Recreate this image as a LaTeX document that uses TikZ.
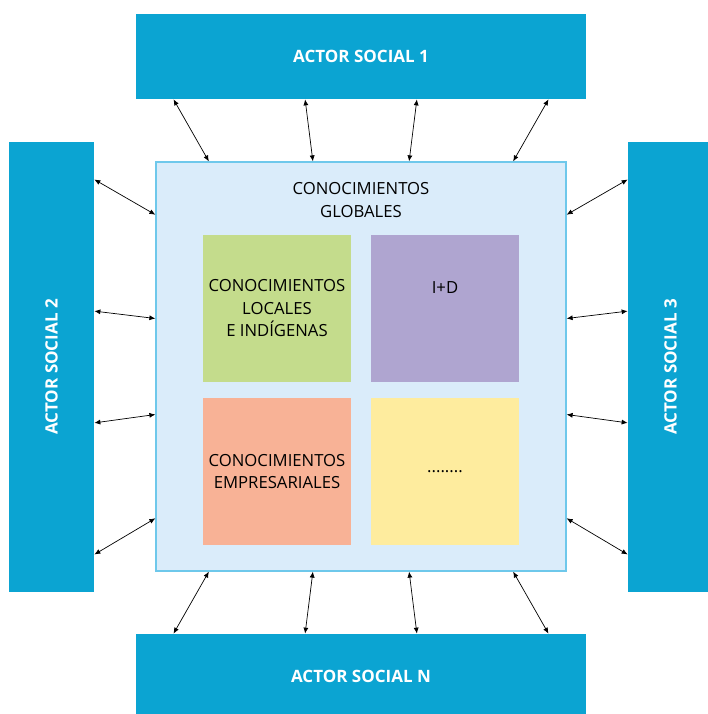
\documentclass[tikz,border=0pt]{standalone}
\usepackage{fontspec}
\setmainfont{Open Sans}
\usetikzlibrary{arrows.meta,calc}
\definecolor{cbar}{RGB}{11,164,210}
\definecolor{cglob}{RGB}{218,236,250}
\definecolor{cglobline}{RGB}{110,200,235}
\definecolor{cgreen}{RGB}{196,220,140}
\definecolor{cpurple}{RGB}{175,165,208}
\definecolor{csalmon}{RGB}{248,178,150}
\definecolor{cyellow}{RGB}{254,236,158}
\newcommand{\drawlinks}[4]
{\foreach \f/\g in {.084/.13,.376/.383,.624/.617,.916/.87}
		{\draw[<->] ($(#1)!\f!(#2)$) -- ($(#3)!\g!(#4)$);
			};
}
\tikzset{
	txt/.style={font=\fontsize{16.7}{22.5}\selectfont},
	actor/.style={fill=cbar,inner sep=0,text=white,font=\fontsize{17}{22.5}\selectfont\bfseries},
	know/.style={txt,inner sep=0,minimum width=148,minimum height=147,align=center}
}

\begin{document}
\begin{tikzpicture}[x=1pt,y=-1pt,>={Latex[length=6pt,width=5pt]},line width=.7pt]

\useasboundingbox (0,0) rectangle (708,714);

% actores sociales
\node[actor,minimum width=450,minimum height=85] (a1) at (361,56.5) {ACTOR SOCIAL 1};
\node[actor,minimum width=85,minimum height=450] (a2) at (51.5,367) {\rotatebox{90}{ACTOR SOCIAL 2}};
\node[actor,minimum width=85,minimum height=450] (a3) at (670.5,367) {\rotatebox{90}{ACTOR SOCIAL 3}};
\node[actor,minimum width=450,minimum height=85] (an) at (361,676.5) {ACTOR SOCIAL N};

% conocimientos
\node[fill=cglob,draw=cglobline,line width=1.2pt,minimum width=410,minimum height=409,inner sep=0] (cg) at (361,366.5) {};
\node[txt,align=center] (cgt) at (361,200) {CONOCIMIENTOS\\GLOBALES};
\node[know,fill=cgreen] (loc) at (277,308.5) {CONOCIMIENTOS\\LOCALES\\E INDÍGENAS};
\node[know,fill=cpurple,label={[txt,anchor=north,inner sep=0,yshift=-46.5]north:I+D}] (id) at (445,308.5) {};
\node[know,fill=csalmon] (emp) at (277,471.5) {CONOCIMIENTOS\\EMPRESARIALES};
\node[know,fill=cyellow] (otr) at (445,471.5) {........};

\drawlinks{a1.south west}{a1.south east}{cg.north west}{cg.north east};
\drawlinks{a2.north east}{a2.south east}{cg.north west}{cg.south west};
\drawlinks{a3.north west}{a3.south west}{cg.north east}{cg.south east};
\drawlinks{an.north west}{an.north east}{cg.south west}{cg.south east};

\end{tikzpicture}
\end{document}
